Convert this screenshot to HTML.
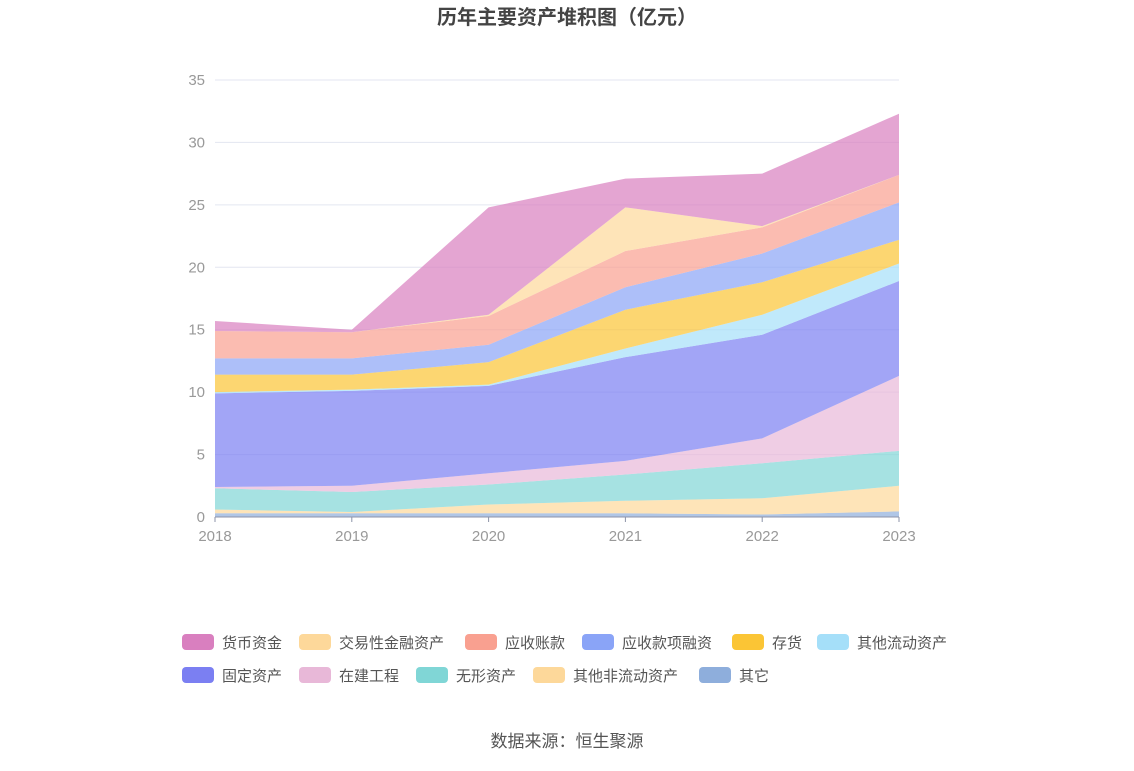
<!DOCTYPE html>
<html><head><meta charset="utf-8"><style>
body{margin:0;background:#fff;font-family:"Liberation Sans","Noto Sans CJK SC",sans-serif;}
svg text{font-family:"Liberation Sans","Noto Sans CJK SC",sans-serif;}
</style></head><body>
<svg id="c" width="1134" height="766">
<text x="567" y="24" text-anchor="middle" font-size="20" font-weight="bold" fill="#444">历年主要资产堆积图（亿元）</text>
<g id="grid"></g><g id="areas"></g><g id="axis"></g><g id="legend"></g>
<text x="567" y="747" text-anchor="middle" font-size="17" fill="#555">数据来源：恒生聚源</text>
</svg>
<script>
const years=["2018","2019","2020","2021","2022","2023"];
const yTicks=[0,5,10,15,20,25,30,35];
const seriesNames=["其它","其他非流动资产","无形资产","在建工程","固定资产","其他流动资产","存货","应收款项融资","应收账款","交易性金融资产","货币资金"];
const sOther=[0.3,0.3,0.3,0.3,0.2,0.45];
const sOtherNonCur=[0.3,0.1,0.7,1.0,1.3,2.05];
const sIntangible=[1.7,1.6,1.6,2.1,2.8,2.8];
const sConstruction=[0.1,0.5,0.9,1.1,2.0,6.0];
const sFixed=[7.5,7.6,7.0,8.3,8.3,7.6];
const sOtherCur=[0.1,0.1,0.1,0.7,1.6,1.4];
const sInventory=[1.4,1.2,1.8,3.1,2.6,1.9];
const sFinancing=[1.3,1.3,1.4,1.8,2.3,3.0];
const sReceivable=[2.2,2.1,2.3,2.9,2.1,2.2];
const sTrading=[0,0,0.1,3.5,0.1,0];
const sCash=[0.8,0.2,8.6,2.3,4.2,4.9];
const seriesData=[sOther,sOtherNonCur,sIntangible,sConstruction,sFixed,sOtherCur,sInventory,sFinancing,sReceivable,sTrading,sCash];
const colors=["#8eaedc","#fdd89a","#80d6d6","#e8b8d8","#7b7ff2","#a5dff9","#fbc535","#8aa4f7","#f9a090","#fdd89a","#d97fbf"];
const legendOrder=[10,9,8,7,6,5,4,3,2,1,0];
const NS="http://www.w3.org/2000/svg";
const X0=215,X1=899,Y0=517,Y1=80;
const xS=i=>X0+(X1-X0)*i/(years.length-1);
const yS=v=>Y0-(Y0-Y1)*v/35;
function mk(t,a,p){const e=document.createElementNS(NS,t);for(const k in a)e.setAttribute(k,a[k]);p.appendChild(e);return e;}
const grid=document.getElementById('grid'),axis=document.getElementById('axis'),areas=document.getElementById('areas'),leg=document.getElementById('legend');
yTicks.forEach(t=>{
 const l=mk('line',{x1:X0,x2:X1,y1:yS(t),y2:yS(t),stroke:'#e3e6f0'},grid);
 
 
 const tx=mk('text',{x:205,y:yS(t)+5,'text-anchor':'end','font-size':15,fill:'#999'},axis);tx.textContent=t;
 
 
});
let cum=years.map(()=>0);
seriesData.forEach((s,k)=>{
 const lo=cum.slice();cum=cum.map((c,i)=>c+s[i]);
 let d='M'+years.map((_,i)=>xS(i)+','+yS(cum[i])).join('L');
 for(let i=years.length-1;i>=0;i--)d+='L'+xS(i)+','+yS(lo[i]);
 const p=mk('path',{d:d+'Z',fill:colors[k],'fill-opacity':0.7},areas);
 
 
});
mk('line',{x1:X0,x2:X1,y1:Y0,y2:Y0,stroke:'#8c93a8'},axis);
years.forEach((y,i)=>{
 mk('line',{x1:xS(i),x2:xS(i),y1:Y0,y2:Y0+5,stroke:'#8c93a8'},axis);
 const t=mk('text',{x:xS(i),y:541,'text-anchor':'middle','font-size':15,fill:'#999'},axis);t.textContent=y;
 
 
});
const row1=[182,299,465,582,732,817],row2=[182,299,416,533,699];
legendOrder.forEach((k,j)=>{
 const r=j<6?0:1;const x=r?row2[j-6]:row1[j];const y=r?675:642;
 const g=mk('g',{},leg);
 
 
 mk('rect',{x:x,y:y-8,width:32,height:16,rx:4,fill:colors[k]},g);
 const t=mk('text',{x:x+40,y:y+6,'font-size':15,fill:'#555'},g);t.textContent=seriesNames[k];
});
</script>
</body></html>
